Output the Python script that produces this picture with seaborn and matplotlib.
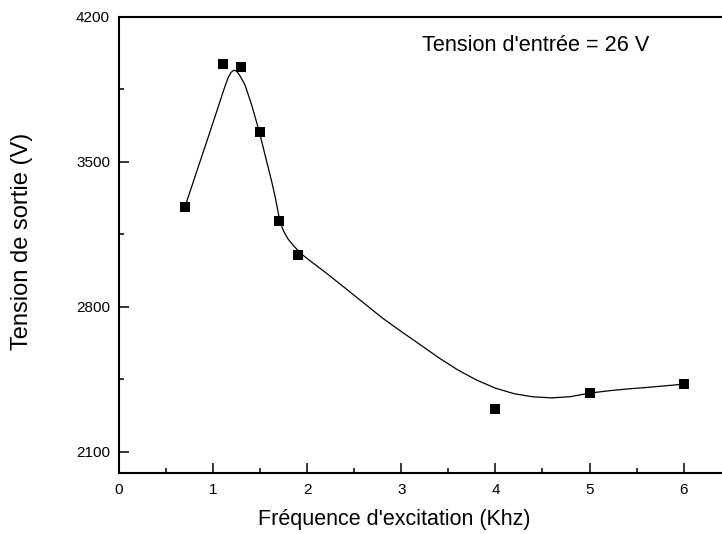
import numpy as np
import pandas as pd
import matplotlib
matplotlib.use("Agg")
import matplotlib.pyplot as plt
import seaborn as sns
from matplotlib.ticker import MultipleLocator

# measured points
freq = [0.7, 1.1, 1.3, 1.5, 1.7, 1.9, 4.0, 5.0, 6.0]
vout = [3281, 3971, 3955, 3644, 3213, 3051, 2305, 2385, 2426]

# fitted curve
curve_x = [0.701, 0.790, 0.861, 0.932, 1.002, 1.073, 1.120, 1.160, 1.190, 1.220,
           1.250, 1.280, 1.339, 1.410, 1.491, 1.552, 1.623, 1.660, 1.704, 1.735,
           1.764, 1.800, 1.852, 1.900, 1.959, 2.000, 2.200, 2.400, 2.600, 2.800,
           3.000, 3.200, 3.400, 3.600, 3.800, 4.000, 4.200, 4.400, 4.600, 4.800,
           5.000, 5.200, 5.400, 5.600, 5.800, 6.000]
curve_y = [3282, 3403, 3500, 3596, 3692, 3790, 3855, 3905, 3930, 3941,
           3936, 3918, 3870, 3773, 3644, 3532, 3403, 3329, 3225, 3180,
           3152, 3124, 3096, 3072, 3047, 3032, 2963, 2891, 2818, 2745,
           2680, 2617, 2553, 2495, 2446, 2407, 2380, 2365, 2360, 2366,
           2383, 2394, 2403, 2410, 2418, 2426]

xticks = [0, 1, 2, 3, 4, 5, 6]
yticks = [2100, 2800, 3500, 4200]

sns.set_style("ticks")
plt.rcParams['font.family'] = ['Liberation Sans', 'DejaVu Sans']
plt.rcParams['text.color'] = 'black'
plt.rcParams['axes.labelcolor'] = 'black'

fig = plt.figure(figsize=(7.22, 5.34), dpi=100)
ax = fig.add_axes([119/722, 61.5/534, 603/722, 456/534])

pts = pd.DataFrame({"f": freq, "v": vout})
cur = pd.DataFrame({"f": curve_x, "v": curve_y})

sns.lineplot(data=cur, x="f", y="v", sort=False, estimator=None, color="black",
             linewidth=0.9, ax=ax)
sns.scatterplot(data=pts, x="f", y="v", marker="s", s=52, color="black",
                edgecolor="black", linewidth=0, ax=ax, zorder=3)

ax.set_xlim(0, 6.408)
ax.set_ylim(2000, 4200)
ax.set_xticks(xticks)
ax.set_yticks(yticks)
ax.xaxis.set_minor_locator(MultipleLocator(0.5))
ax.yaxis.set_minor_locator(MultipleLocator(350))
ax.tick_params(which="major", direction="in", length=7, width=1.1,
               labelsize=11, pad=6.5, color="black", labelcolor="black")
ax.tick_params(which="minor", direction="in", length=3.8, width=1.1, color="black")
ax.tick_params(axis="x", which="major", pad=7.5)

for side in ["left", "bottom", "top"]:
    ax.spines[side].set_visible(True)
    ax.spines[side].set_linewidth(1.5)
    ax.spines[side].set_color("black")
ax.spines["right"].set_visible(False)

ax.set_xlabel("Fréquence d'excitation (Khz)", fontsize=15.5, color="black")
ax.set_ylabel("Tension de sortie (V)", fontsize=17, color="black")
ax.xaxis.set_label_coords((394 - 119) / 603, (472.5 - 520) / 456)
ax.xaxis.label.set_va("center")
ax.yaxis.set_label_coords((22 - 119) / 603, (472.5 - 241.5) / 456)
ax.yaxis.label.set_va("center")

ax.text(3.22, 4058, "Tension d'entrée = 26 V", fontsize=15.6, ha="left", va="center",
        color="black")

fig.savefig("out.png", dpi=100)
